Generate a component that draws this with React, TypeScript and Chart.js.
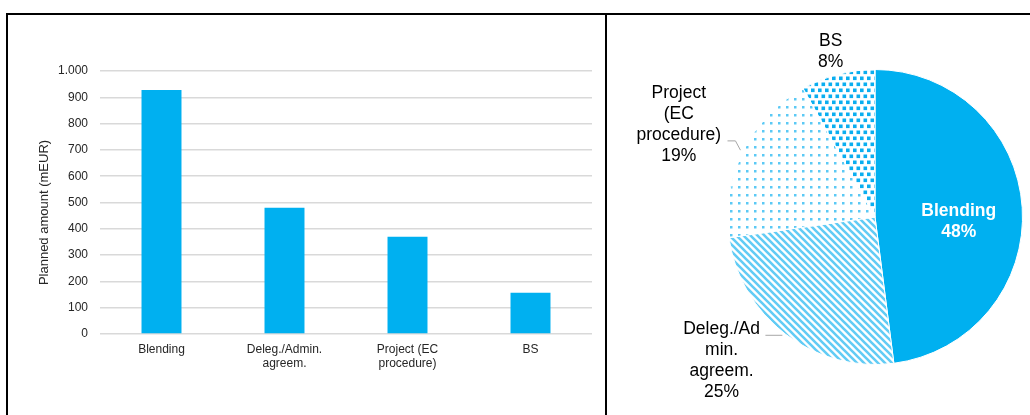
import React, { useEffect, useRef } from "react";
import { Chart, registerables } from "chart.js";

Chart.register(...registerables);

// Planned amounts per implementation modality (mEUR)
const categories: string[][] = [
  ["Blending"],
  ["Deleg./Admin.", "agreem."],
  ["Project (EC", "procedure)"],
  ["BS"],
];
const plannedAmounts: number[] = [928, 480, 370, 157];

// Names as wrapped inside the pie labels
const pieNames: string[][] = [
  ["Blending"],
  ["Deleg./Ad", "min.", "agreem."],
  ["Project", "(EC", "procedure)"],
  ["BS"],
];

// Value axis
const yMin = 0;
const yMax = 1000;
const yStep = 100;
const yTitle = "Planned amount (mEUR)";

const FONT = "'Liberation Sans', Arial, sans-serif";
const BLUE = "#00B0F0";

// Label placement around the pie, in units of the pie radius from its centre
const pieLabelLayout = [
  { dx: 0.568, dy: 0.034, color: "#ffffff", bold: true, leader: null as number[][] | null },
  { dx: -1.04, dy: 0.976, color: "#000000", bold: false, leader: [[-0.743, 0.802], [-0.628, 0.802]] },
  { dx: -1.33, dy: -0.625, color: "#000000", bold: false, leader: [[-1.0, -0.516], [-0.946, -0.516], [-0.912, -0.453]] },
  { dx: -0.3, dy: -1.12, color: "#000000", bold: false, leader: null },
];

function formatThousands(v: number): string {
  return String(Math.round(v)).replace(/\B(?=(\d{3})+(?!\d))/g, ".");
}

function makeTile(w: number, h: number, draw: (c: CanvasRenderingContext2D) => void): CanvasPattern {
  const cv = document.createElement("canvas");
  cv.width = w;
  cv.height = h;
  const c = cv.getContext("2d")!;
  c.fillStyle = "#ffffff";
  c.fillRect(0, 0, w, h);
  draw(c);
  return c.createPattern(cv, "repeat")!;
}

function stripePattern(): CanvasPattern {
  const s = 7;
  return makeTile(s, s, (c) => {
    c.strokeStyle = "#62ccf5";
    c.lineWidth = 2.6;
    c.beginPath();
    c.moveTo(-1, -1);
    c.lineTo(s + 1, s + 1);
    c.moveTo(-1, s - 1);
    c.lineTo(1, s + 1);
    c.moveTo(s - 1, -1);
    c.lineTo(s + 1, 1);
    c.stroke();
  });
}

function sparseDotPattern(): CanvasPattern {
  return makeTile(8, 8, (c) => {
    c.fillStyle = "#5bc9f5";
    c.fillRect(3, 3, 2.5, 2.5);
  });
}

function denseDotPattern(): CanvasPattern {
  return makeTile(7, 12, (c) => {
    c.fillStyle = "#0aaef0";
    c.fillRect(1, 1.5, 3.6, 3.6);
    c.fillRect(4.5, 7.5, 3.6, 3.6);
    c.fillRect(-2.5, 7.5, 3.6, 3.6);
  });
}

const yTitlePlugin = {
  id: "yTitleText",
  afterDraw(chart: Chart) {
    const { ctx, chartArea } = chart;
    ctx.save();
    ctx.translate(chartArea.left - 56, (chartArea.top + chartArea.bottom) / 2 + 10);
    ctx.rotate(-Math.PI / 2);
    ctx.font = `13px ${FONT}`;
    ctx.fillStyle = "#262626";
    ctx.textAlign = "center";
    ctx.textBaseline = "middle";
    ctx.fillText(yTitle, 0, 0);
    ctx.restore();
  },
};

const pieLabelsPlugin = {
  id: "pieLabels",
  afterDraw(chart: Chart) {
    const { ctx } = chart;
    const meta = chart.getDatasetMeta(0);
    const values = chart.data.datasets[0].data as number[];
    const total = values.reduce((a, b) => a + b, 0);
    const first: any = meta.data[0];
    const cx = first.x;
    const cy = first.y;
    const r = first.outerRadius;
    const lineH = 21;
    ctx.save();
    pieLabelLayout.forEach((lay, i) => {
      if (lay.leader) {
        ctx.strokeStyle = "#a6a6a6";
        ctx.lineWidth = 1;
        ctx.beginPath();
        lay.leader.forEach(([px, py], k) => {
          const x = cx + px * r;
          const y = cy + py * r;
          if (k === 0) ctx.moveTo(x, y);
          else ctx.lineTo(x, y);
        });
        ctx.stroke();
      }
      const pct = Math.round((values[i] / total) * 100) + "%";
      const lines = [...pieNames[i], pct];
      const x = cx + lay.dx * r;
      const y0 = cy + lay.dy * r - ((lines.length - 1) * lineH) / 2;
      ctx.font = `${lay.bold ? "bold " : ""}17.5px ${FONT}`;
      ctx.fillStyle = lay.color;
      ctx.textAlign = "center";
      ctx.textBaseline = "middle";
      lines.forEach((t, k) => ctx.fillText(t, x, y0 + k * lineH));
    });
    ctx.restore();
  },
};

export default function App() {
  const barRef = useRef<HTMLCanvasElement>(null);
  const pieRef = useRef<HTMLCanvasElement>(null);

  useEffect(() => {
    const bar = new Chart(barRef.current!, {
      type: "bar",
      data: {
        labels: categories,
        datasets: [
          {
            data: plannedAmounts,
            backgroundColor: BLUE,
            barPercentage: 0.325,
            categoryPercentage: 1,
          },
        ],
      },
      options: {
        responsive: false,
        maintainAspectRatio: false,
        animation: false,
        layout: { padding: { left: 20, right: 13, top: 71, bottom: 21 } },
        plugins: { legend: { display: false }, tooltip: { enabled: false } },
        scales: {
          x: {
            grid: { display: false, drawTicks: false },
            border: { display: false },
            ticks: {
              padding: 8,
              color: "#262626",
              font: { family: FONT, size: 12, lineHeight: 1.2 },
              maxRotation: 0,
              autoSkip: false,
            },
            afterFit: (s: any) => {
              s.height = 60;
            },
          },
          y: {
            min: yMin,
            max: yMax,
            border: { display: false },
            grid: { color: "#d9d9d9", lineWidth: 1.5, drawTicks: false },
            ticks: {
              stepSize: yStep,
              padding: 12,
              color: "#262626",
              font: { family: FONT, size: 12 },
              callback: (v: any) => formatThousands(Number(v)),
            },
            afterFit: (s: any) => {
              s.width = 80;
            },
          },
        },
      },
      plugins: [yTitlePlugin],
    });

    const pie = new Chart(pieRef.current!, {
      type: "pie",
      data: {
        labels: pieNames.map((n) => n.join(" ")),
        datasets: [
          {
            data: plannedAmounts,
            backgroundColor: [BLUE, stripePattern(), sparseDotPattern(), denseDotPattern()],
            borderColor: "#ffffff",
            borderWidth: 1,
          },
        ],
      },
      options: {
        responsive: false,
        maintainAspectRatio: false,
        animation: false,
        layout: { padding: { left: 120, right: 7, top: 54, bottom: 50 } },
        plugins: { legend: { display: false }, tooltip: { enabled: false } },
      },
      plugins: [pieLabelsPlugin],
    });

    return () => {
      bar.destroy();
      pie.destroy();
    };
  }, []);

  return (
    <div
      style={{
        position: "fixed",
        left: 0,
        top: 0,
        width: 1030,
        height: 415,
        background: "#ffffff",
        overflow: "hidden",
      }}
    >
      <canvas
        ref={barRef}
        width={605}
        height={415}
        style={{ position: "absolute", left: 0, top: 0, width: 605, height: 415 }}
      />
      <canvas
        ref={pieRef}
        width={423}
        height={400}
        style={{ position: "absolute", left: 607, top: 15, width: 423, height: 400 }}
      />
      <div style={{ position: "absolute", left: 6, top: 13, width: 1024, height: 2, background: "#000" }} />
      <div style={{ position: "absolute", left: 6, top: 13, width: 2, height: 402, background: "#000" }} />
      <div style={{ position: "absolute", left: 605, top: 13, width: 2, height: 402, background: "#000" }} />
    </div>
  );
}
